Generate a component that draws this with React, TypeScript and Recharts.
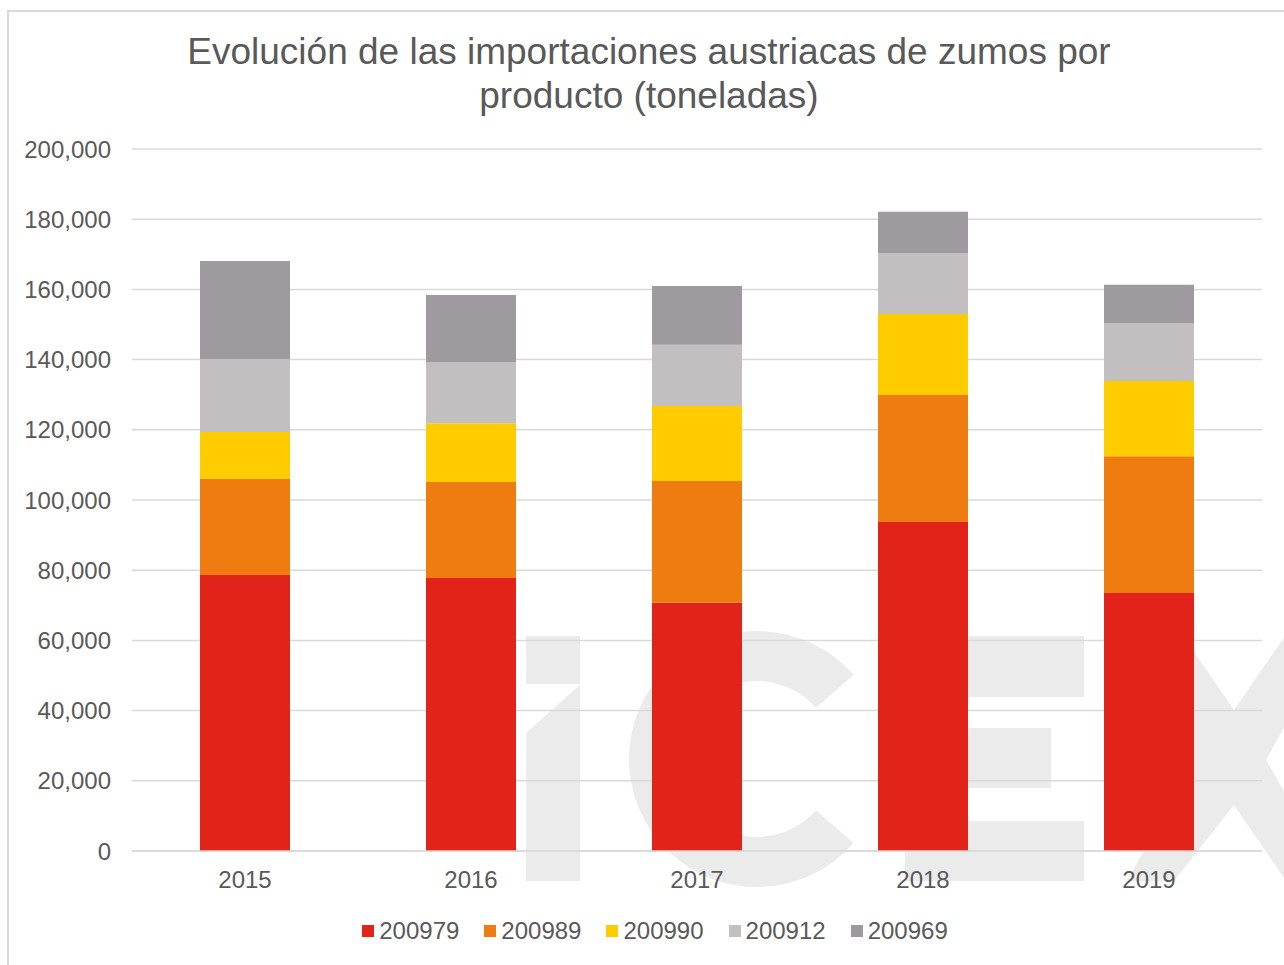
import { BarChart, Bar, XAxis, YAxis, CartesianGrid, Legend } from "recharts";

// ── Data (toneladas) ────────────────────────────────────────────────

const YEARS = ["2015", "2016", "2017", "2018", "2019"];

const S_200979 = [78600, 77800, 70700, 93700, 73500];
const S_200989 = [27400, 27300, 34700, 36200, 39000];
const S_200990 = [13400, 16800, 21400, 23100, 21400];
const S_200912 = [20800, 17400, 17400, 17400, 16500];
const S_200969 = [27900, 19100, 16800, 11700, 10900];

const Y_TICKS = [0, 20000, 40000, 60000, 80000, 100000, 120000, 140000, 160000, 180000, 200000];

const SERIES = [
  { key: "200979", values: S_200979, color: "#E2231A" },
  { key: "200989", values: S_200989, color: "#EE7C11" },
  { key: "200990", values: S_200990, color: "#FFCC00" },
  { key: "200912", values: S_200912, color: "#C1BFC0" },
  { key: "200969", values: S_200969, color: "#9D9B9D" },
];

const data = YEARS.map((year, i) => {
  const row: Record<string, string | number> = { year };
  SERIES.forEach((s) => (row[s.key] = s.values[i]));
  return row;
});

const FONT = '"Liberation Sans", Arial, sans-serif';
const TEXT = "#595959";
const GRID = "#D9D9D9";
const MARK = "#EBEBEB";

// ── Legend ───────────────────────────────────────────────────────────

function LegendRow() {
  return (
    <div style={{ display: "flex", justifyContent: "center", alignItems: "center", height: 28, gap: 25, paddingLeft: 48 }}>
      {SERIES.map((s) => (
        <div key={s.key} style={{ display: "flex", alignItems: "center", gap: 5 }}>
          <span style={{ width: 12, height: 12, background: s.color, display: "inline-block" }} />
          <span style={{ fontFamily: FONT, fontSize: 24, color: TEXT }}>{s.key}</span>
        </div>
      ))}
    </div>
  );
}

// ── Background watermark (iCEX) ──────────────────────────────────────

function Watermark() {
  return (
    <svg width={1284} height={965} style={{ position: "absolute", left: 0, top: 0 }}>
      <g fill={MARK}>
        <polygon points="526,636 580,636 580,684 526,684" />
        <polygon points="526,733 580,685 580,881 526,881" />
        <path d="M 853.6 675 A 128 128 0 1 0 853.6 843 L 815.9 810.2 A 78 78 0 1 1 815.9 707.8 Z" />
        <rect x={905} y={636} width={63} height={245} />
        <rect x={905} y={636} width={179} height={61} />
        <rect x={905} y={728} width={146} height={60} />
        <rect x={905} y={821} width={179} height={60} />
        <polygon points="1125,636 1183,636 1234,710 1285,636 1335,636 1266,760 1335,881 1286,881 1234,805 1174,881 1127,881 1194,760" />
      </g>
    </svg>
  );
}

// ── Main ─────────────────────────────────────────────────────────────

export default function App() {
  return (
    <div style={{ position: "absolute", left: 0, top: 0, width: 1284, height: 965, overflow: "hidden", background: "#fff" }}>
      <Watermark />
      <div
        style={{
          position: "absolute", left: 7, top: 10, width: 1300, height: 1000,
          borderLeft: `2px solid ${GRID}`, borderTop: `2px solid ${GRID}`,
        }}
      />
      <div
        style={{
          position: "absolute", left: 7, top: 30, width: 1284, textAlign: "center",
          fontFamily: FONT, fontSize: 37, lineHeight: "44px", color: TEXT,
        }}
      >
        Evolución de las importaciones austriacas de zumos por
        <br />
        producto (toneladas)
      </div>
      <div style={{ position: "absolute", left: 0, top: 0 }}>
        <BarChart
          width={1284}
          height={965}
          data={data}
          margin={{ top: 149, right: 22, bottom: 20, left: 0 }}
          barSize={90}
        >
          <CartesianGrid vertical={false} stroke={GRID} strokeWidth={1.5} />
          <XAxis
            dataKey="year"
            height={66}
            tickLine={false}
            axisLine={{ stroke: GRID, strokeWidth: 1.5 }}
            tickMargin={14}
            tick={{ fill: TEXT, fontSize: 24, fontFamily: FONT }}
          />
          <YAxis
            width={132}
            domain={[0, 200000]}
            ticks={Y_TICKS}
            tickLine={false}
            axisLine={false}
            tickMargin={15}
            tickFormatter={(v: number) => v.toLocaleString("en-US")}
            tick={{ fill: TEXT, fontSize: 24, fontFamily: FONT }}
          />
          {SERIES.map((s) => (
            <Bar key={s.key} dataKey={s.key} stackId="a" fill={s.color} isAnimationActive={false} />
          ))}
          <Legend verticalAlign="bottom" content={() => <LegendRow />} />
        </BarChart>
      </div>
    </div>
  );
}
